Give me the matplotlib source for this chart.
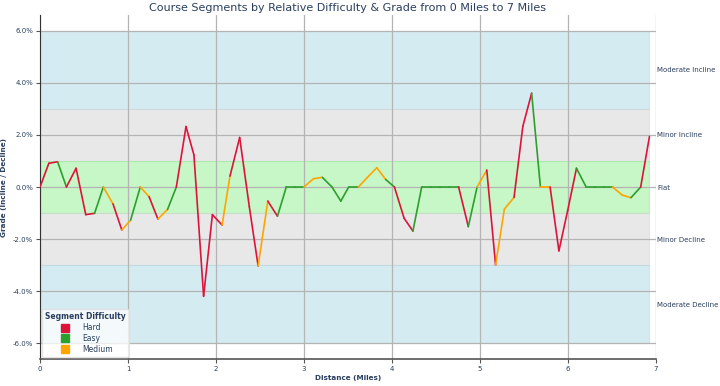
import matplotlib
matplotlib.use("Agg")
import matplotlib.pyplot as plt
from matplotlib.lines import Line2D

# ====== data ======
distance = [0.00, 0.10, 0.20, 0.30, 0.41, 0.52, 0.62, 0.72, 0.83, 0.93,
            1.03, 1.14, 1.24, 1.34, 1.45, 1.55, 1.66, 1.75, 1.86, 1.96,
            2.07, 2.16, 2.27, 2.38, 2.48, 2.59, 2.70, 2.80, 2.90, 3.00,
            3.11, 3.21, 3.32, 3.42, 3.51, 3.62, 3.72, 3.83, 3.93, 4.03,
            4.14, 4.24, 4.34, 4.45, 4.55, 4.65, 4.76, 4.87, 4.97, 5.08,
            5.18, 5.28, 5.39, 5.49, 5.59, 5.69, 5.80, 5.90, 6.00, 6.10,
            6.21, 6.31, 6.41, 6.51, 6.62, 6.72, 6.83, 6.93]
grade = [0.00, 0.91, 0.97, 0.00, 0.72, -1.06, -1.01, 0.00, -0.65, -1.65,
         -1.27, 0.00, -0.37, -1.23, -0.86, 0.00, 2.32, 1.23, -4.19, -1.06,
         -1.46, 0.42, 1.90, -0.76, -3.03, -0.54, -1.12, 0.00, 0.00, 0.00,
         0.32, 0.37, 0.00, -0.54, 0.00, 0.00, 0.36, 0.74, 0.29, 0.00,
         -1.20, -1.69, 0.00, 0.00, 0.00, 0.00, 0.00, -1.52, 0.00, 0.65,
         -3.00, -0.85, -0.40, 2.33, 3.60, 0.00, 0.00, -2.45, -0.90, 0.72,
         0.00, 0.00, 0.00, 0.00, -0.31, -0.41, 0.00, 1.94]
# difficulty of each segment (between point i and i+1)
segment_difficulty = [
    "Hard", "Hard", "Easy", "Hard", "Hard", "Hard", "Easy", "Medium", "Hard", "Medium",
    "Easy", "Medium", "Hard", "Medium", "Easy", "Hard", "Hard", "Hard", "Hard", "Hard",
    "Medium", "Hard", "Hard", "Hard", "Medium", "Hard", "Easy", "Easy", "Easy", "Medium",
    "Medium", "Easy", "Easy", "Easy", "Easy", "Medium", "Medium", "Medium", "Easy", "Hard",
    "Hard", "Easy", "Easy", "Easy", "Easy", "Easy", "Hard", "Easy", "Medium", "Hard",
    "Medium", "Medium", "Hard", "Hard", "Easy", "Medium", "Hard", "Hard", "Hard", "Easy",
    "Easy", "Easy", "Easy", "Medium", "Medium", "Easy", "Hard"]
difficulty_names = ["Hard", "Easy", "Medium"]

# grade bands (low, high) and labels
band_low = [3, 1, -1, -3, -6]
band_high = [6, 3, 1, -1, -3]
band_kind = ["blue", "grey", "green", "grey", "blue"]
zone_pos = [4.5, 2, 0, -2, -4.5]
zone_labels = ["Moderate Incline", "Minor Incline", "Flat", "Minor Decline", "Moderate Decline"]
y_ticks = [6, 4, 2, 0, -2, -4, -6]
x_ticks = [0, 1, 2, 3, 4, 5, 6, 7]
# =========================================

COLORS = {"Hard": "#dc143c", "Easy": "#2ca02c", "Medium": "#ffa500"}
BAND_COLORS = {"blue": "lightblue", "grey": "lightgrey", "green": "lightgreen"}
TEXT_COLOR = "#2a3f5f"


def main():
    plt.rcParams["font.family"] = ["DejaVu Sans"]
    fig = plt.figure(figsize=(7.2, 3.86), dpi=100)
    ax = fig.add_axes([0.0556, 0.070, 0.855, 0.891])

    x_span = [distance[0], distance[-1]]
    for lo, hi, kind in zip(band_low, band_high, band_kind):
        ax.fill_between(x_span, lo, hi, color=BAND_COLORS[kind], alpha=0.5,
                        linewidth=0.8, zorder=1)

    for i, diff in enumerate(segment_difficulty):
        ax.plot(distance[i:i + 2], grade[i:i + 2], color=COLORS[diff],
                linewidth=1.2, solid_capstyle="round", zorder=3)

    ax.set_xlim(0, 7)
    ax.set_ylim(-6.6, 6.6)
    ax.set_xticks(x_ticks)
    ax.set_yticks(y_ticks)
    ax.set_yticklabels([f"{v:.1f}%" for v in y_ticks])
    ax.grid(True, color="#b4b4b4", linewidth=0.9, zorder=1.5)
    ax.tick_params(labelsize=5, colors="#555555", labelcolor=TEXT_COLOR, length=3,
                   width=0.8, pad=2)

    for side in ("top", "right"):
        ax.spines[side].set_visible(False)
    ax.spines["left"].set_color("#333333")
    ax.spines["bottom"].set_color("#555555")
    ax.spines["bottom"].set_linewidth(1.2)

    ax.set_title("Course Segments by Relative Difficulty & Grade from 0 Miles to 7 Miles",
                 fontsize=8, color=TEXT_COLOR, pad=3)
    ax.set_xlabel("Distance (Miles)", fontsize=5.2, fontweight="bold", color=TEXT_COLOR,
                  labelpad=2)
    ax.set_ylabel("Grade (Incline / Decline)", fontsize=5.2, fontweight="bold",
                  color=TEXT_COLOR, labelpad=4)

    ax2 = ax.twinx()
    ax2.set_ylim(ax.get_ylim())
    ax2.set_yticks(zone_pos)
    ax2.set_yticklabels(zone_labels)
    ax2.tick_params(length=0, pad=1, labelsize=5, labelcolor=TEXT_COLOR)
    for side in ("top", "right", "left", "bottom"):
        ax2.spines[side].set_visible(False)

    handles = [Line2D([], [], marker="s", linestyle="none", markersize=6,
                      markerfacecolor=COLORS[n], markeredgecolor=COLORS[n], label=n)
               for n in difficulty_names]
    leg = ax.legend(handles=handles, title="Segment Difficulty", loc="lower left",
                    fontsize=5.5, title_fontsize=5.5, borderaxespad=0.25,
                    frameon=True, framealpha=0.75, edgecolor="#dddddd",
                    handletextpad=1.2, borderpad=0.4, labelspacing=0.25)
    leg.get_title().set_fontweight("bold")
    leg.get_title().set_color(TEXT_COLOR)
    for t in leg.get_texts():
        t.set_color(TEXT_COLOR)
    leg.set_zorder(5)

    fig.savefig("out.png", dpi=100)
    plt.close(fig)


if __name__ == "__main__":
    main()
